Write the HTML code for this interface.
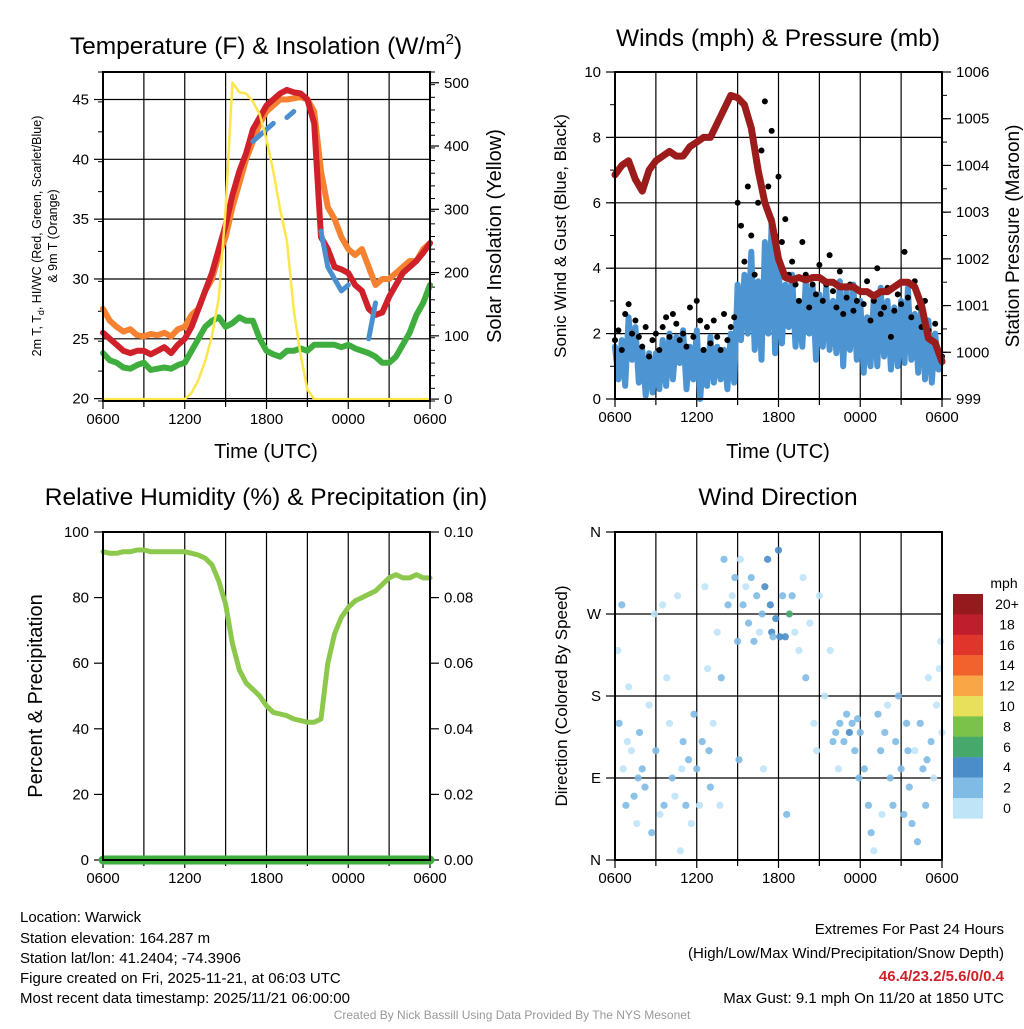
<!DOCTYPE html>
<html><head><meta charset="utf-8"><style>
body{margin:0;background:#fff}
svg text{font-family:"Liberation Sans",sans-serif;fill:#000}
</style></head><body>
<svg id="s" width="1024" height="1024" viewBox="0 0 1024 1024" xmlns="http://www.w3.org/2000/svg">
<rect width="1024" height="1024" fill="#fff"/>
<g id="g"></g>
<text x="266" y="54" font-size="24.5" text-anchor="middle">Temperature (F) &amp; Insolation (W/m<tspan font-size="15" dy="-10">2</tspan><tspan dy="10">)</tspan></text>
<text x="778" y="46" font-size="24.5" text-anchor="middle">Winds (mph) &amp; Pressure (mb)</text>
<text x="266" y="505" font-size="24.5" text-anchor="middle">Relative Humidity (%) &amp; Precipitation (in)</text>
<text x="778" y="505" font-size="24.5" text-anchor="middle">Wind Direction</text>
<text font-size="12.5" text-anchor="middle" transform="translate(41,236) rotate(-90)">2m T, T<tspan font-size="9" dy="3">d</tspan><tspan dy="-3">, HI/WC (Red, Green, Scarlet/Blue)</tspan></text>
<text font-size="12.5" text-anchor="middle" transform="translate(57,236) rotate(-90)">&amp; 9m T (Orange)</text>
<text font-size="20" text-anchor="middle" transform="translate(501,236) rotate(-90)">Solar Insolation (Yellow)</text>
<text font-size="17" text-anchor="middle" transform="translate(566,236) rotate(-90)">Sonic Wind &amp; Gust (Blue, Black)</text>
<text font-size="19" text-anchor="middle" transform="translate(1019,236) rotate(-90)">Station Pressure (Maroon)</text>
<text font-size="20" text-anchor="middle" transform="translate(42,696) rotate(-90)">Percent &amp; Precipitation</text>
<text font-size="17" text-anchor="middle" transform="translate(567,696) rotate(-90)">Direction (Colored By Speed)</text>
<text x="266" y="458" font-size="20" text-anchor="middle">Time (UTC)</text>
<text x="778" y="458" font-size="20" text-anchor="middle">Time (UTC)</text>
<g font-size="15">
<text x="20" y="922">Location: Warwick</text>
<text x="20" y="943">Station elevation: 164.287 m</text>
<text x="20" y="963">Station lat/lon: 41.2404; -74.3906</text>
<text x="20" y="983">Figure created on Fri, 2025-11-21, at 06:03 UTC</text>
<text x="20" y="1003">Most recent data timestamp: 2025/11/21 06:00:00</text>
</g>
<g font-size="15" text-anchor="end">
<text x="1004" y="934">Extremes For Past 24 Hours</text>
<text x="1004" y="958">(High/Low/Max Wind/Precipitation/Snow Depth)</text>
<text x="1004" y="981" style="fill:#d0202a" font-weight="bold">46.4/23.2/5.6/0/0.4</text>
<text x="1004" y="1003">Max Gust: 9.1 mph On 11/20 at 1850 UTC</text>
</g>
<text x="512" y="1019" font-size="12" text-anchor="middle" style="fill:#999">Created By Nick Bassill Using Data Provided By The NYS Mesonet</text>
</svg>
<script>
// ---- data (hours since 0600 UTC) ----
const xTickLabels=["0600","1200","1800","0000","0600"];
const tempTicks=[20,25,30,35,40,45];
const solarTicks=[0,100,200,300,400,500];
const windTicks=[0,2,4,6,8,10];
const presTicks=[999,1000,1001,1002,1003,1004,1005,1006];
const rhTicks=[0,20,40,60,80,100];
const precipTicks=["0.00","0.02","0.04","0.06","0.08","0.10"];
const dirTicks=["N","E","S","W","N"];
// half-hourly temperature series
const tRed=[25.5,25,24.5,24,23.8,24,24,23.7,24,24.3,23.8,24.5,25,26,27.5,29,30.5,32.5,34.5,37,39,40.5,42.5,43.5,44.5,45,45.5,45.8,45.6,45.5,45,43,33.5,32.5,31,30.8,30.5,29.5,29,27.5,27,27.2,28.5,29.5,30.5,31,31.5,32.2,33];
const tOrange=[27.5,26.5,26,25.6,25.8,25.3,25.2,25.4,25.3,25.5,25.2,25.8,26,27,27.5,29,30,32,33.5,36,38,40,41.5,43,44,44.5,45,45,45.1,45.2,45,44,39,36,35,33.5,32.5,32,32.5,31,29.5,30,30,30.5,31,31.5,31.5,32.5,33];
const tGreen=[23.8,23.2,23,22.6,22.5,22.8,23,22.4,22.5,22.6,22.5,22.8,23,24,25,26,26.5,26.8,26,26.3,26.8,26.5,26.5,25,24,23.7,23.5,24,24,24.2,24,24.5,24.5,24.5,24.5,24.3,24.5,24.2,24,23.8,23.5,23,23,23.5,24.5,25.5,27,28,29.5];
const tBlue=[null,null,21.2,null,22,null,null,null,null,null,22,null,22.5,null,null,null,null,null,35.5,null,39,null,41.5,42,42.5,43,null,43.5,44,null,null,null,34,31,30,29,29.5,null,null,25,28,null,null,null,null,null,null,null,null];
const solar=[0,0,0,0,0,0,0,0,0,0,0,0,0,10,30,60,100,160,300,500,485,483,470,450,410,360,300,250,140,70,15,0,0,0,0,0,0,0,0,0,0,0,0,0,0,0,0,0,0];
// 15-minute wind series
const windSpd=[1.6,0.6,1.8,0.4,2.5,1.2,2.2,0.5,1.5,0.1,1.4,0.2,1.4,0.3,1.8,0.4,2.0,0.6,1.9,1.1,2.1,0.3,1.6,0.6,2.1,0.0,1.5,0.4,1.9,0.5,1.6,0.6,1.5,0.3,2.0,0.5,3.5,1.8,3.8,2.0,4.5,1.5,3.6,1.2,4.8,2.0,5.5,1.4,4.2,1.7,3.5,2.2,3.8,1.6,3.0,1.6,3.6,2.0,3.5,1.2,3.2,1.6,3.4,1.5,3.0,1.4,3.6,1.0,3.3,1.5,3.5,1.2,3.0,0.8,2.5,1.0,3.2,1.0,3.4,1.3,3.0,0.9,2.8,1.0,3.0,1.1,3.4,1.2,2.6,0.8,3.0,0.6,2.4,0.5,2.0,0.9,1.2];
const windGust=[1.8,2.1,1.5,2.6,2.9,2.0,2.4,1.9,1.6,2.2,1.3,1.8,2.0,1.5,2.2,2.5,1.9,2.6,2.3,1.8,2.0,1.6,2.8,1.9,3.0,2.4,1.5,2.2,1.7,2.4,1.9,1.5,2.6,1.8,2.2,2.5,6.0,5.3,4.2,6.5,5.0,3.8,6.0,7.6,9.1,6.5,8.2,5.0,6.8,4.8,5.5,3.8,4.2,3.5,3.0,4.8,3.8,2.8,3.5,3.2,4.1,3.0,3.5,4.4,3.3,2.8,3.9,2.6,3.1,3.5,2.7,3.0,3.3,2.9,3.6,2.4,3.0,4.0,2.6,2.8,3.4,1.9,2.7,3.2,2.9,4.5,3.1,2.5,3.6,2.8,2.2,3.0,2.1,1.8,2.3,1.4,1.3];
// half-hourly pressure
const pres=[1003.8,1004.0,1004.1,1003.7,1003.45,1003.9,1004.1,1004.2,1004.3,1004.2,1004.2,1004.4,1004.5,1004.6,1004.6,1004.9,1005.2,1005.5,1005.45,1005.3,1004.8,1003.9,1003.2,1002.8,1002.0,1001.6,1001.55,1001.6,1001.55,1001.6,1001.6,1001.5,1001.5,1001.4,1001.4,1001.4,1001.3,1001.3,1001.2,1001.3,1001.3,1001.4,1001.5,1001.5,1001.4,1001.0,1000.3,1000.2,999.8];
// relative humidity (half-hourly)
const rh=[94,93.5,93.5,94,94,94.5,94.5,94,94,94,94,94,94,93.5,93,92,90,85,78,66,58,54,52,50,47,45,44.5,44,43,42.5,42,42,43,60,69,74,77,79,80,81,82,84,86,87,86,86,87,86,86];
const precip=[0,0,0,0,0,0,0,0,0,0,0,0,0,0,0,0,0,0,0,0,0,0,0,0,0,0,0,0,0,0,0,0,0,0,0,0,0,0,0,0,0,0,0,0,0,0,0,0,0];
// wind direction [hour, degrees, speed]
const dirObs=[[0.2,230,1],[0.3,150,2],[0.5,280,2],[0.6,100,1],[0.8,60,2],[1.0,190,1],[1.2,120,1],[1.4,70,2],[1.6,40,1],[1.8,140,2],[2.0,100,3],[2.2,80,2],[2.5,170,1],[2.7,30,2],[2.9,270,1],[3.0,120,2],[3.3,50,1],[3.5,280,1],[3.8,200,1],[4.0,150,1],[4.2,90,2],[4.4,70,1],[4.6,290,1],[4.8,10,1],[5.0,130,2],[5.2,60,2],[5.4,110,2],[5.6,40,1],[5.8,160,2],[6.0,100,3],[6.2,60,1],[6.4,130,2],[6.6,300,1],[6.8,210,1],[7.0,80,2],[7.2,150,1],[7.5,250,1],[7.8,200,2],[8.0,330,2],[8.3,280,2],[8.6,290,1],[8.8,310,2],[9.0,240,3],[9.2,330,1],[9.4,280,2],[9.6,300,1],[9.8,260,2],[10.0,310,3],[10.2,240,2],[10.4,290,2],[10.6,250,1],[10.8,270,3],[11.0,300,4],[11.2,330,4],[11.4,280,5],[11.5,250,4],[11.6,245,3],[11.8,265,4],[12.0,340,4],[12.1,245,4],[12.3,290,3],[12.5,245,4],[12.8,270,7],[13.0,290,3],[13.2,250,1],[13.5,230,1],[13.8,310,1],[14.0,200,2],[14.3,260,1],[14.6,150,1],[15.0,290,1],[15.4,180,1],[15.8,230,1],[16.0,130,2],[16.2,140,3],[16.5,150,3],[16.8,130,2],[17.0,160,3],[17.2,140,4],[17.4,150,3],[17.6,120,2],[17.8,155,2],[18.0,140,3],[18.3,100,2],[18.6,60,3],[18.8,30,2],[19.0,10,1],[19.3,160,2],[19.5,120,2],[19.8,140,3],[20.0,170,1],[20.2,90,3],[20.4,60,2],[20.6,130,3],[20.8,180,2],[21.0,100,2],[21.2,50,3],[21.4,150,2],[21.6,80,2],[21.8,40,3],[22.0,120,1],[22.2,20,3],[22.4,150,2],[22.6,100,2],[22.8,60,3],[23.0,200,1],[23.2,130,2],[23.4,90,1],[23.6,170,1],[23.8,210,1],[23.9,240,1],[24.0,140,1],[0.9,130,1],[1.7,90,2],[3.6,60,2],[4.9,100,1],[6.9,120,2],[7.7,60,1],[9.1,110,2],[10.9,100,1],[12.6,50,2],[14.8,120,1],[16.4,100,1],[17.9,90,2],[19.6,50,1],[21.5,120,2],[22.9,110,2]];
const cbLabels=["20+","18","16","14","12","10","8","6","4","2","0"];
const cbColors=["#951a1d","#bf1e2d","#e0352b","#f2622c","#f9a646","#e8e05a","#7bc24b","#47a86c","#4a8dc8","#80bbe6","#bfe4f8"];

const NS="http://www.w3.org/2000/svg";
const G=document.getElementById('g');
function el(tag,attrs,parent){const e=document.createElementNS(NS,tag);for(const k in attrs)e.setAttribute(k,attrs[k]);(parent||G).appendChild(e);return e;}
function lin(d0,d1,r0,r1){return v=>r0+(v-d0)/(d1-d0)*(r1-r0);}

const P1={x0:103,x1:430,y0:72,y1:401};
const P2={x0:615,x1:942,y0:72,y1:399};
const P3={x0:103,x1:430,y0:532,y1:860};
const P4={x0:615,x1:942,y0:532,y1:860};

function frame(P,name){
  const xs=lin(0,24,P.x0,P.x1);
  for(let h=0;h<=24;h+=3){const x=xs(h);
    const l=el('line',{x1:x,x2:x,y1:P.y0,y2:P.y1+(h%6==0?8:6),stroke:'#000','stroke-width':1.2});
    
    }
  xTickLabels.forEach((t,i)=>{const tx=el('text',{x:xs(i*6),y:P.y1+23,'font-size':15,'text-anchor':'middle'});tx.textContent=t;
    
    });
}
function box(P,name){const r=el('rect',{x:P.x0,y:P.y0,width:P.x1-P.x0,height:P.y1-P.y0,fill:'none',stroke:'#000','stroke-width':2});
  
  }
function yAxis(P,ticks,labels,d0,d1,side,grid,name,minor){
  const ys=lin(d0,d1,P.y1,P.y0);
  if(minor){for(let v=d0;v<=d1+1e-9;v+=minor){const y=ys(v);const x=side=='L'?P.x0:P.x1;
    el('line',{x1:x,x2:side=='L'?x-5:x+5,y1:y,y2:y,stroke:'#000','stroke-width':1});}}
  ticks.forEach((v,i)=>{const y=ys(v);const x=side=='L'?P.x0:P.x1;
    if(grid){const g=el('line',{x1:P.x0,x2:P.x1,y1:y,y2:y,stroke:'#000','stroke-width':1.2});
      
      }
    el('line',{x1:x,x2:side=='L'?x-9:x+9,y1:y,y2:y,stroke:'#000','stroke-width':1.2});
    const t=el('text',{x:side=='L'?x-14:x+14,y:y+5,'font-size':15,'text-anchor':side=='L'?'end':'start'});
    t.textContent=labels?labels[i]:v;
    
    });
  return ys;
}
function line(P,vals,dt,ys,color,w,name){
  const xs=lin(0,24,P.x0,P.x1);let d='',pen=false;
  vals.forEach((v,i)=>{if(v==null){pen=false;return;}d+=(pen?'L':'M')+xs(i*dt).toFixed(1)+','+ys(v).toFixed(1);pen=true;});
  const p=el('path',{d:d,fill:'none',stroke:color,'stroke-width':w,'stroke-linejoin':'round','stroke-linecap':'round'});
  
  
  return p;
}

// Panel 1
frame(P1,'temp');
const yT=yAxis(P1,tempTicks,null,19.8,47.3,'L',true,'temp',2.5);
const yS=yAxis(P1,solarTicks,null,-3,517,'R',false,'solar',20);
line(P1,tGreen,0.5,yT,'#3fae3f',6,'dewpoint-line');
line(P1,tOrange,0.5,yT,'#f58231',6,'temp-9m-line');
line(P1,tRed,0.5,yT,'#d0202a',6,'temp-2m-line');
line(P1,tBlue,0.5,yT,'#4a90d0',5,'heat-index-windchill-line');
line(P1,solar,0.5,yS,'#fde64c',2.5,'solar-line');
box(P1,'temp');

// Panel 2
frame(P2,'wind');
const yW=yAxis(P2,windTicks,null,0,10,'L',true,'wind',1);
const yP=yAxis(P2,presTicks,null,999,1006,'R',false,'pressure',0.5);
line(P2,windSpd,0.25,yW,'#4d94d2',6,'sonic-wind-line');
{const xs=lin(0,24,P2.x0,P2.x1);windGust.forEach((v,i)=>{const c=el('circle',{cx:xs(i*0.25),cy:yW(v),r:3,fill:'#000'});
  
  });}
line(P2,pres,0.5,yP,'#9c1c1c',7,'pressure-line');
box(P2,'wind');

// Panel 3
frame(P3,'rh');
const yR=yAxis(P3,rhTicks,null,0,100,'L',false,'rh');
const yPr=yAxis(P3,[0,0.02,0.04,0.06,0.08,0.1],precipTicks,0,0.1,'R',false,'precip');
line(P3,rh,0.5,yR,'#8cc84b',5,'rh-line');
line(P3,precip,0.5,yPr,'#3fae3f',9,'precip-line');
box(P3,'rh');

// Panel 4
frame(P4,'dir');
const yD=yAxis(P4,[0,90,180,270,360],dirTicks,0,360,'L',true,'dir');
{const xs=lin(0,24,P4.x0,P4.x1);dirObs.forEach(o=>{const bin=Math.min(10,Math.floor(o[2]/2));
  const c=el('circle',{cx:xs(o[0]),cy:yD(o[1]),r:3.6,fill:cbColors[10-bin],opacity:0.9});
  
  });}
box(P4,'dir');

// colorbar
{const t=el('text',{x:1004,y:588,'font-size':14,'text-anchor':'middle'});t.textContent='mph';
 
 
 cbLabels.forEach((l,i)=>{const y=594+i*20.4;
  const r=el('rect',{x:953,y:y,width:30,height:20.6,fill:cbColors[i]});
  
  
  const tx=el('text',{x:1007,y:y+15,'font-size':14,'text-anchor':'middle'});tx.textContent=l;
  
  });}
</script>
</body></html>
